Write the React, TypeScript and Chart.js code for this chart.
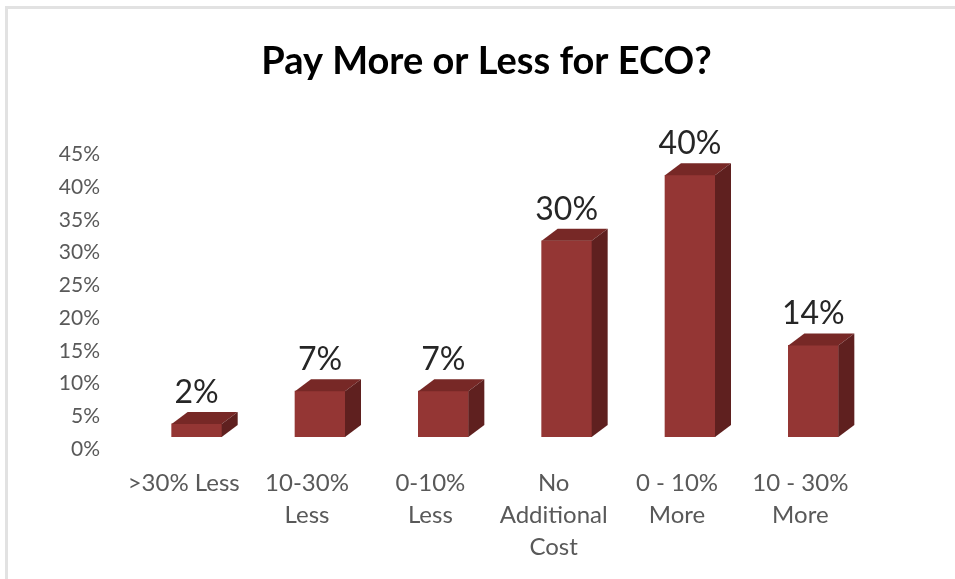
import React, { useEffect, useRef } from "react";
import { Chart, registerables } from "chart.js";

Chart.register(...registerables);

const categories: string[][] = [
  [">30% Less"],
  ["10-30%", "Less"],
  ["0-10%", "Less"],
  ["No", "Additional", "Cost"],
  ["0 - 10%", "More"],
  ["10 - 30%", "More"],
];
const values: number[] = [2, 7, 7, 30, 40, 14];
const dataLabels: string[] = ["2%", "7%", "7%", "30%", "40%", "14%"];
const yMax = 45;
const yStep = 5;
const chartTitle = "Pay More or Less for ECO?";

const FRONT = "#943634";
const TOP = "#772826";
const SIDE = "#5f201f";
const FONT = "Lato, 'Open Sans', sans-serif";

const bar3d = {
  id: "bar3d",
  beforeDraw(chart: any) {
    const ctx = chart.ctx;
    ctx.save();
    ctx.fillStyle = "#ffffff";
    ctx.fillRect(0, 0, chart.width, chart.height);
    ctx.fillStyle = "#e2e2e2";
    ctx.fillRect(5, 6, 3, chart.height - 6);
    ctx.fillRect(5, 6, chart.width - 5, 3);
    ctx.restore();
  },
  afterDatasetsDraw(chart: any) {
    const ctx = chart.ctx;
    const meta = chart.getDatasetMeta(0);
    const dx = 16;
    const dy = -12;
    ctx.save();
    meta.data.forEach((el: any, i: number) => {
      const p = el.getProps(["x", "y", "base", "width"], true);
      const l = p.x - p.width / 2;
      const r = p.x + p.width / 2;
      const t = p.y;
      const b = p.base;
      ctx.fillStyle = TOP;
      ctx.beginPath();
      ctx.moveTo(l, t);
      ctx.lineTo(l + dx, t + dy);
      ctx.lineTo(r + dx, t + dy);
      ctx.lineTo(r, t);
      ctx.closePath();
      ctx.fill();
      ctx.fillStyle = SIDE;
      ctx.beginPath();
      ctx.moveTo(r, t);
      ctx.lineTo(r + dx, t + dy);
      ctx.lineTo(r + dx, b + dy);
      ctx.lineTo(r, b);
      ctx.closePath();
      ctx.fill();
      ctx.fillStyle = "#262626";
      ctx.font = "32px " + FONT;
      ctx.textAlign = "center";
      ctx.textBaseline = "alphabetic";
      ctx.fillText(dataLabels[i], p.x, t - 21);
    });
    ctx.restore();
  },
};

export default function App() {
  const ref = useRef<HTMLCanvasElement>(null);
  useEffect(() => {
    if (!ref.current) return;
    const chart = new Chart(ref.current, {
      type: "bar",
      data: {
        labels: categories,
        datasets: [
          {
            data: values,
            backgroundColor: FRONT,
            borderWidth: 0,
            barThickness: 50,
          },
        ],
      },
      plugins: [bar3d],
      options: {
        animation: false,
        responsive: false,
        maintainAspectRatio: false,
        layout: { padding: { left: 18, right: 0, top: 0, bottom: 0 } },
        plugins: {
          legend: { display: false },
          tooltip: { enabled: false },
          title: {
            display: true,
            text: chartTitle,
            color: "#000000",
            font: { family: FONT, size: 38, weight: "bold", lineHeight: 1.2 },
            padding: { top: 39, bottom: 58 },
          },
        },
        scales: {
          x: {
            grid: { display: false, drawTicks: false, tickLength: 0 },
            border: { display: false },
            ticks: {
              color: "#595959",
              font: { family: FONT, size: 24, lineHeight: 1.333 },
              padding: 30,
              labelOffset: -13,
              maxRotation: 0,
              autoSkip: false,
            },
            afterFit(scale: any) {
              scale.height = 142;
            },
          },
          y: {
            min: 0,
            max: yMax,
            grid: { display: false, drawTicks: false, tickLength: 0 },
            border: { display: false },
            ticks: {
              stepSize: yStep,
              color: "#595959",
              font: { family: FONT, size: 21 },
              padding: 35,
              labelOffset: 12,
              callback: (v: any) => v + "%",
            },
            afterFit(scale: any) {
              scale.width = 117;
            },
          },
          yRight: {
            position: "right",
            min: 0,
            max: yMax,
            grid: { display: false, drawTicks: false, tickLength: 0 },
            border: { display: false },
            ticks: { display: false },
            afterFit(scale: any) {
              scale.width = 80;
            },
          },
        },
      },
    });
    return () => chart.destroy();
  }, []);
  return (
    <div style={{ position: "fixed", left: 0, top: 0, width: 955, height: 579, background: "#fff" }}>
      <canvas ref={ref} width={955} height={579} style={{ width: 955, height: 579, display: "block" }} />
    </div>
  );
}
